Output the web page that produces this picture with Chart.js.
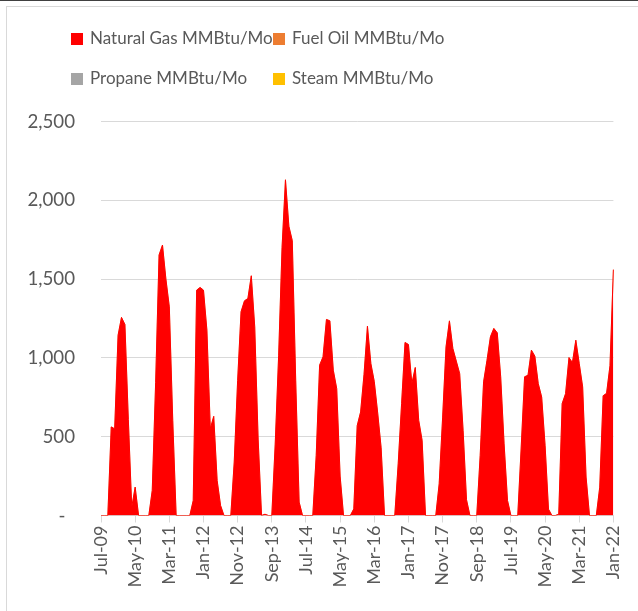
<!DOCTYPE html>
<html lang="en">
<head>
<meta charset="UTF-8">
<title>Energy use MMBtu/Mo</title>
<script src="https://cdn.jsdelivr.net/npm/chart.js"></script>
<style>
  body { margin: 0; background: #fff; font-family: Lato, "Open Sans", sans-serif; }
  .frame { position: relative; width: 638px; height: 611px; overflow: hidden; background: #fff; }
  .topline { position: absolute; left: 0; top: 0; width: 638px; height: 1px; background: #404040; }
  .box { position: absolute; left: 6px; top: 6px; width: 660px; height: 640px; border: 1px solid #d9d9d9; }
  .chart { position: absolute; left: 0; top: 0; width: 638px; height: 611px; }
  .swatch { position: absolute; width: 12px; height: 12px; }
  .label { position: absolute; font-size: 17px; line-height: 20px; color: #595959; white-space: nowrap; }
</style>
</head>
<body>
<div class="frame">
  <div class="topline"></div>
  <div class="box"></div>
  <div class="chart"><canvas id="energyChart"></canvas></div>
  <div id="legend"></div>
</div>
<script>
// monthly consumption, Jul-09 .. Jan-22
const seriesNames = ['Natural Gas MMBtu/Mo', 'Fuel Oil MMBtu/Mo', 'Propane MMBtu/Mo', 'Steam MMBtu/Mo'];
const seriesColors = ['#FF0000', '#ED7D31', '#A5A5A5', '#FFC000'];
const yTicks = [0, 500, 1000, 1500, 2000, 2500];

const naturalGas = [
  0, 0, 0, 562, 550, 1144, 1257, 1212, 610, 53, 180, 0, 0, 0, 0, 159, 845, 1653, 1716, 1500,
  1324, 604, 0, 0, 0, 0, 0, 95, 1430, 1447, 1430, 1176, 551, 629, 222, 64, 0, 0, 0, 339,
  856, 1293, 1362, 1377, 1521, 1197, 485, 0, 8, 0, 0, 453, 1013, 1700, 2130, 1835, 1744, 854, 85, 0,
  0, 0, 0, 381, 954, 1007, 1244, 1235, 922, 805, 250, 0, 0, 0, 42, 570, 657, 896, 1201, 964,
  850, 650, 430, 0, 0, 0, 0, 328, 710, 1098, 1085, 837, 939, 604, 477, 0, 0, 0, 0, 201,
  619, 1070, 1235, 1060, 980, 900, 540, 100, 0, 0, 0, 381, 848, 985, 1134, 1187, 1159, 880, 455, 95,
  0, 0, 0, 428, 880, 890, 1049, 1011, 837, 752, 445, 40, 0, 0, 8, 710, 773, 1002, 970, 1112,
  964, 816, 244, 0, 0, 0, 180, 760, 775, 950, 1560
];
const fuelOil = [
  0,0,0,0,0,0,0,0,0,0,0,0,0,0,0,0,0,0,0,0,0,0,0,0,0,0,0,0,0,0,0,0,0,0,0,0,0,0,0,0,
  0,0,0,0,0,0,0,0,0,0,0,0,0,0,0,0,0,0,0,0,0,0,0,0,0,0,0,0,0,0,0,0,0,0,0,0,0,0,0,0,
  0,0,0,0,0,0,0,0,0,0,0,0,0,0,0,0,0,0,0,0,0,0,0,0,0,0,0,0,0,0,0,0,0,0,0,0,0,0,0,0,
  0,0,0,0,0,0,0,0,0,0,0,0,0,0,0,0,0,0,0,0,0,0,0,0,0,0,0,0,0,0,0
];
const propane = [
  0,0,0,0,0,0,0,0,0,0,0,0,0,0,0,0,0,0,0,0,0,0,0,0,0,0,0,0,0,0,0,0,0,0,0,0,0,0,0,0,
  0,0,0,0,0,0,0,0,0,0,0,0,0,0,0,0,0,0,0,0,0,0,0,0,0,0,0,0,0,0,0,0,0,0,0,0,0,0,0,0,
  0,0,0,0,0,0,0,0,0,0,0,0,0,0,0,0,0,0,0,0,0,0,0,0,0,0,0,0,0,0,0,0,0,0,0,0,0,0,0,0,
  0,0,0,0,0,0,0,0,0,0,0,0,0,0,0,0,0,0,0,0,0,0,0,0,0,0,0,0,0,0,0
];
const steam = [
  0,0,0,0,0,0,0,0,0,0,0,0,0,0,0,0,0,0,0,0,0,0,0,0,0,0,0,0,0,0,0,0,0,0,0,0,0,0,0,0,
  0,0,0,0,0,0,0,0,0,0,0,0,0,0,0,0,0,0,0,0,0,0,0,0,0,0,0,0,0,0,0,0,0,0,0,0,0,0,0,0,
  0,0,0,0,0,0,0,0,0,0,0,0,0,0,0,0,0,0,0,0,0,0,0,0,0,0,0,0,0,0,0,0,0,0,0,0,0,0,0,0,
  0,0,0,0,0,0,0,0,0,0,0,0,0,0,0,0,0,0,0,0,0,0,0,0,0,0,0,0,0,0,0
];

// month labels Jul-09 .. Jan-22
const monthNames = ['Jan','Feb','Mar','Apr','May','Jun','Jul','Aug','Sep','Oct','Nov','Dec'];
const months = [];
for (let y = 2009, m = 6; months.length < naturalGas.length; m++) {
  if (m > 11) { m = 0; y++; }
  months.push(monthNames[m] + '-' + String(y).slice(2));
}

// legend, 2 x 2
const legendPos = [[71, 33, 28], [273, 33, 28], [71, 73, 68], [273, 73, 68]];
const legendEl = document.getElementById('legend');
seriesNames.forEach((name, i) => {
  const [x, sy, ty] = legendPos[i];
  const sw = document.createElement('div');
  sw.className = 'swatch';
  sw.style.left = x + 'px';
  sw.style.top = sy + 'px';
  sw.style.background = seriesColors[i];
  legendEl.appendChild(sw);
  const lb = document.createElement('div');
  lb.className = 'label';
  lb.style.left = (x + 19) + 'px';
  lb.style.top = ty + 'px';
  lb.textContent = name;
  legendEl.appendChild(lb);
});

const textColor = '#595959';
const gridColor = '#d9d9d9';

new Chart(document.getElementById('energyChart'), {
  type: 'line',
  data: {
    labels: months,
    datasets: [
      { label: seriesNames[0], data: naturalGas, backgroundColor: seriesColors[0], borderColor: seriesColors[0], borderWidth: 1, fill: 'origin' },
      { label: seriesNames[1], data: fuelOil, backgroundColor: seriesColors[1], borderColor: 'rgba(237,125,49,0.6)', borderWidth: 1, fill: '-1' },
      { label: seriesNames[2], data: propane, backgroundColor: seriesColors[2], borderColor: 'rgba(0,0,0,0)', borderWidth: 0, fill: '-1' },
      { label: seriesNames[3], data: steam, backgroundColor: seriesColors[3], borderColor: 'rgba(0,0,0,0)', borderWidth: 0, fill: '-1' }
    ]
  },
  options: {
    responsive: true,
    maintainAspectRatio: false,
    animation: false,
    elements: { point: { radius: 0, hoverRadius: 0 }, line: { tension: 0 } },
    layout: { padding: { top: 121.5, right: 17, bottom: 15.5, left: 0 } },
    plugins: { legend: { display: false }, tooltip: { enabled: false } },
    scales: {
      x: {
        offset: false,
        grid: {
          drawOnChartArea: false,
          drawTicks: true,
          tickLength: 7,
          color: gridColor
        },
        border: { display: true, color: gridColor, width: 1 },
        ticks: {
          autoSkip: false,
          maxRotation: 90,
          minRotation: 90,
          padding: 3,
          color: textColor,
          font: { family: 'Lato', size: 18 },
          callback: function (v, i) { return i % 10 === 0 ? months[i] : null; }
        },
        afterFit: function (s) { s.height = 80; }
      },
      y: {
        stacked: true,
        min: 0,
        max: 2500,
        grid: { color: gridColor, drawTicks: false },
        border: { display: false },
        afterBuildTicks: function (s) { s.ticks = yTicks.map(v => ({ value: v })); },
        ticks: {
          padding: 26,
          color: textColor,
          font: { family: 'Lato', size: 18.7 },
          callback: function (v) { return v === 0 ? '-  ' : v.toLocaleString('en-US'); }
        },
        afterFit: function (s) { s.width = 101; }
      }
    }
  }
});
</script>
</body>
</html>
